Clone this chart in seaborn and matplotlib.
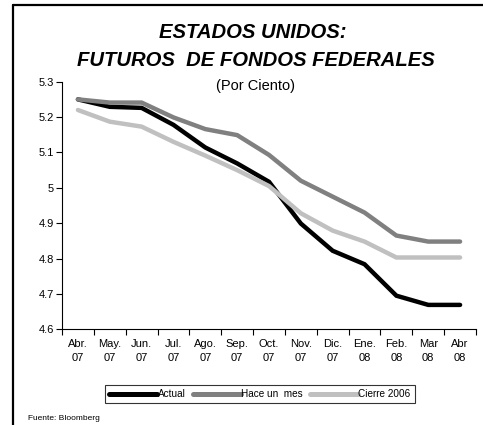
import matplotlib
matplotlib.use("Agg")
import matplotlib.pyplot as plt
import seaborn as sns
import pandas as pd
import numpy as np
from matplotlib.lines import Line2D

sns.set_theme(style="white")
plt.rcParams['font.family'] = ['Liberation Sans', 'DejaVu Sans']
plt.rcParams['text.color'] = 'black'
plt.rcParams['xtick.color'] = 'black'
plt.rcParams['ytick.color'] = 'black'

months = ["Abr.\n07", "May.\n07", "Jun.\n07", "Jul.\n07", "Ago.\n07", "Sep.\n07", "Oct.\n07",
          "Nov.\n07", "Dic.\n07", "Ene.\n08", "Feb.\n08", "Mar\n08", "Abr\n08"]
actual = [5.250, 5.229, 5.226, 5.178, 5.114, 5.069, 5.017, 4.899, 4.822, 4.784, 4.695, 4.669, 4.669]
hace_un_mes = [5.250, 5.241, 5.241, 5.199, 5.166, 5.149, 5.093, 5.020, 4.975, 4.930, 4.865, 4.848, 4.848]
cierre_2006 = [5.220, 5.187, 5.173, 5.130, 5.091, 5.050, 5.005, 4.928, 4.879, 4.848, 4.803, 4.803, 4.803]
series_names = ["Actual", "Hace un  mes", "Cierre 2006"]
colors = ["#000000", "#808080", "#c0c0c0"]
yticks = [4.6, 4.7, 4.8, 4.9, 5.0, 5.1, 5.2, 5.3]
ytick_labels = ["4.6", "4.7", "4.8", "4.9", "5", "5.1", "5.2", "5.3"]

idx = np.arange(len(months))
df = pd.DataFrame({
    "x": np.concatenate([idx, idx, idx]),
    "valor": actual + hace_un_mes + cierre_2006,
    "serie": [series_names[0]] * len(idx) + [series_names[1]] * len(idx) + [series_names[2]] * len(idx),
})

W, H = 483, 425
fig = plt.figure(figsize=(W / 100, H / 100), dpi=100)
ax = fig.add_axes([62 / W, 1 - 329.3 / H, (476 - 62) / W, (329.3 - 81.7) / H])

sns.lineplot(data=df, x="x", y="valor", hue="serie", palette=colors,
             hue_order=series_names, linewidth=3.2, ax=ax, legend=False,
             solid_joinstyle="miter")

ax.set_xlim(-0.5, len(months) - 0.5)
ax.set_ylim(4.6, 5.3)
ax.set_yticks(yticks)
ax.set_yticklabels(ytick_labels, fontsize=8)
ax.set_xticks(np.arange(-0.5, len(months), 1.0))
ax.set_xticklabels([])
ax.set_xticks(idx, minor=True)
ax.set_xticklabels(months, minor=True, fontsize=8, linespacing=1.55)
ax.tick_params(axis="x", which="major", direction="out", length=4, width=0.8, color="black", bottom=True)
ax.tick_params(axis="x", which="minor", length=0, pad=7, labelcolor="black")
ax.tick_params(axis="y", direction="out", length=4, width=0.8, color="black", left=True, pad=2, labelcolor="black")
ax.set_xlabel("")
ax.set_ylabel("")
for s in ["top", "right"]:
    ax.spines[s].set_visible(False)
for s in ["left", "bottom"]:
    ax.spines[s].set_color("black")
    ax.spines[s].set_linewidth(0.8)
ax.patch.set_alpha(0)

# Titles
fig.text(253 / W, 1 - 32 / H, "ESTADOS UNIDOS:", ha="center", va="center",
         fontsize=14.6, fontweight="bold", fontstyle="italic", color="black")
fig.text(256 / W, 1 - 60 / H, "FUTUROS  DE FONDOS FEDERALES", ha="center", va="center",
         fontsize=14.6, fontweight="bold", fontstyle="italic", color="black")
fig.text(256 / W, 1 - 86 / H, "(Por Ciento)", ha="center", va="center", fontsize=10.5, color="black")

# Legend
handles = [Line2D([0], [0], color=c, lw=3.6) for c in colors]
leg = fig.legend(handles, series_names, loc="center", bbox_to_anchor=(260 / W, 1 - 394 / H),
                 ncol=3, fontsize=7.2, frameon=True, fancybox=False, handlelength=4.8,
                 handletextpad=0.05, columnspacing=0.7, borderpad=0.4, borderaxespad=0)
leg.get_frame().set_edgecolor("black")
leg.get_frame().set_linewidth(0.8)
for t in leg.get_texts():
    t.set_color("black")

fig.text(28 / W, 1 - 419 / H, "Fuente: Bloomberg", ha="left", va="center", fontsize=6, color="black")

# Outer frame (top and left)
fig.add_artist(Line2D([13 / W, 1.0], [1 - 5 / H, 1 - 5 / H], color="black", lw=1.6, transform=fig.transFigure))
fig.add_artist(Line2D([13 / W, 13 / W], [1 - 5 / H, 0.0], color="black", lw=1.6, transform=fig.transFigure))

fig.savefig("out.png", dpi=100)
